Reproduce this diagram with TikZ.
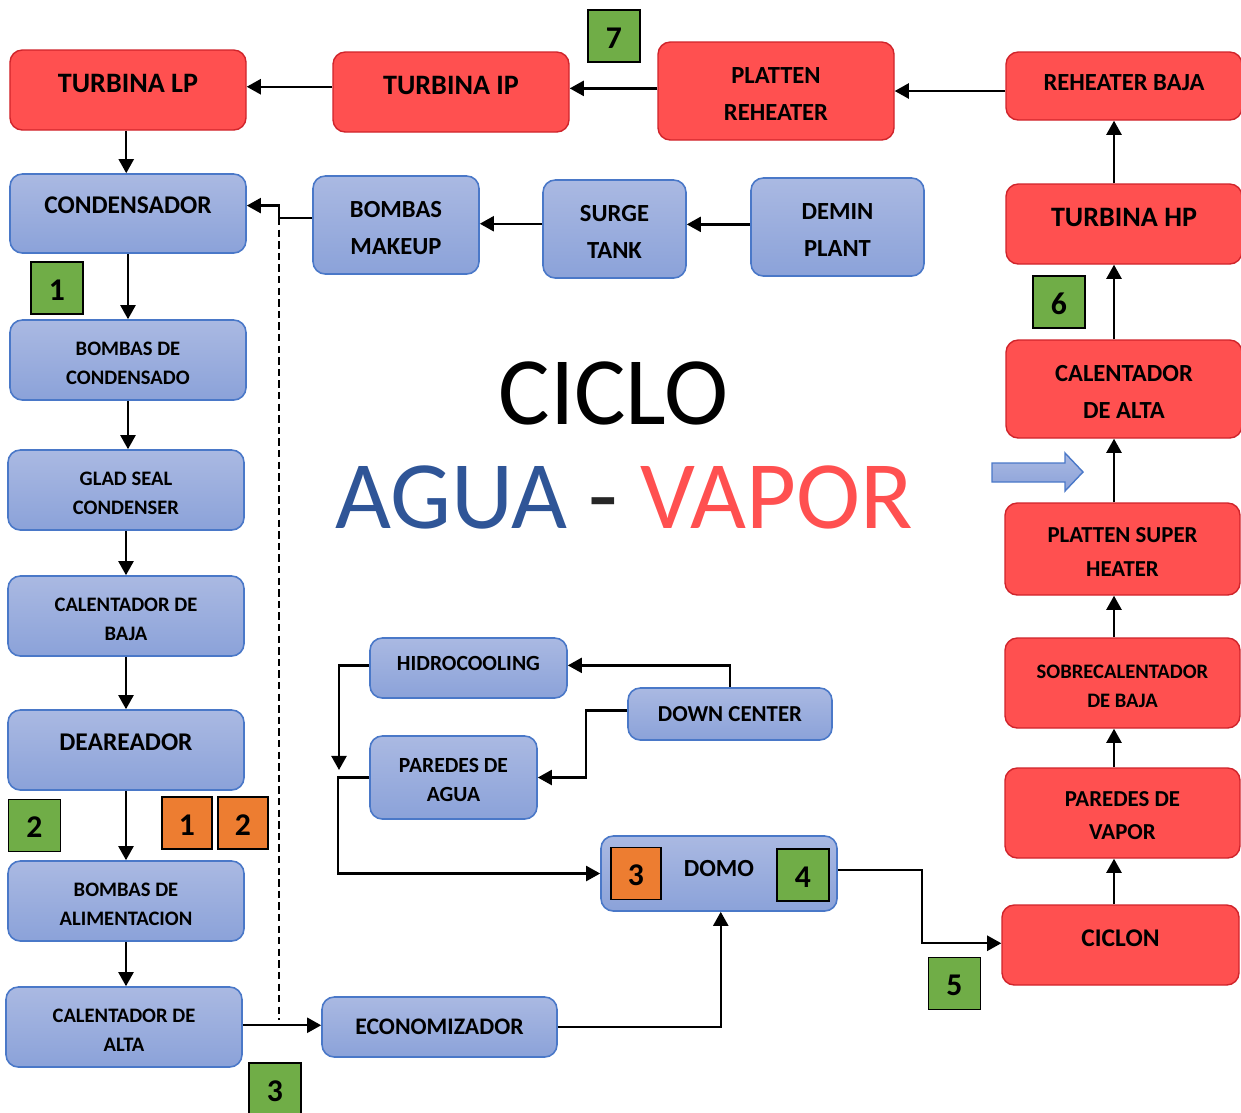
\documentclass[tikz,border=0pt]{standalone}
\usepackage{fontspec}
\setmainfont{Carlito}
\usetikzlibrary{arrows.meta}
\definecolor{vaporred}{HTML}{FF5050}
\definecolor{redline}{HTML}{D0242B}
\definecolor{blueTop}{HTML}{AAB9E2}
\definecolor{blueBot}{HTML}{8BA2D9}
\definecolor{blueline}{HTML}{4A78C8}
\definecolor{numgreen}{HTML}{70AD47}
\definecolor{numorange}{HTML}{ED7D31}
\definecolor{aguablue}{HTML}{2F5597}
\definecolor{dashdark}{HTML}{262626}
\begin{document}
\begin{tikzpicture}[x=0.2mm,y=-0.2mm,
  box/.style={rounded corners=7pt, align=center, inner sep=1pt},
  ml/.style={execute at begin node={\rule{0pt}{\dimexpr0.644em+\baselineskip+3.4pt\relax}}},
  redbox/.style={box, fill=vaporred, draw=redline, line width=0.8pt},
  bluebox/.style={box, top color=blueTop, bottom color=blueBot, draw=blueline, line width=0.9pt},
  numbox/.style={draw=black, line width=1.1pt, inner sep=0pt, minimum width=10.4mm, minimum height=10.4mm, text height=14pt, text depth=0pt, font=\fontsize{18}{20}\selectfont\bfseries},
  greenno/.style={numbox, fill=numgreen},
  orangeno/.style={numbox, fill=numorange},
  fturb/.style={font=\fontsize{16}{19}\selectfont\bfseries},
  fmid/.style={font=\fontsize{14}{21}\selectfont\bfseries},
  fsm/.style={font=\fontsize{13}{19}\selectfont\bfseries},
  ftiny/.style={font=\fontsize{11.7}{16.5}\selectfont\bfseries},
  flow/.style={line width=1.4pt, -{Triangle[length=8pt,width=8.5pt]}},
  dashline/.style={line width=1.4pt, dash pattern=on 4.2pt off 2.4pt},
  title/.style={font=\fontsize{55}{60}\selectfont, anchor=base}]
\useasboundingbox (0,0) rectangle (1241,1112);

\node[redbox, fturb, minimum width=47.2mm, minimum height=16mm, text height=10.3pt, text depth=8pt] (tlp) at (128,90) {TURBINA LP};
\node[redbox, fturb, minimum width=47.2mm, minimum height=16mm, text height=10.3pt, text depth=8pt] (tip) at (451,92) {TURBINA IP};
\node[redbox, fmid, ml, minimum width=47.2mm, minimum height=19.6mm] (plat) at (776,91) {PLATTEN\\REHEATER};
\node[redbox, fmid, minimum width=47.2mm, minimum height=13.6mm, text height=9pt, text depth=3.4pt] (rhb) at (1124,86) {REHEATER BAJA};
\node[greenno] (n7) at (614,36) {7};

\node[bluebox, font=\fontsize{14.5}{21}\selectfont\bfseries, minimum width=47.2mm, minimum height=15.8mm, text height=9.3pt, text depth=9.6pt] (cond) at (128,213.5) {CONDENSADOR};
\node[bluebox, fmid, ml, minimum width=33.2mm, minimum height=19.6mm] (bmk) at (396,225) {BOMBAS\\MAKEUP};
\node[bluebox, fmid, ml, minimum width=28.6mm, minimum height=19.6mm] (surge) at (614.5,229) {SURGE\\TANK};
\node[bluebox, fmid, ml, minimum width=34.6mm, minimum height=19.6mm] (demin) at (837.5,227) {DEMIN\\PLANT};
\node[redbox, fturb, minimum width=47.2mm, minimum height=16mm, text height=10.3pt, text depth=8pt] (thp) at (1124,224) {TURBINA HP};

\node[greenno] (n1g) at (57,288) {1};
\node[bluebox, ftiny, ml, minimum width=47.2mm, minimum height=16mm] (bdc) at (128,360) {BOMBAS DE\\CONDENSADO};
\node[greenno] (n6) at (1059,302) {6};
\node[redbox, fmid, ml, minimum width=47.2mm, minimum height=19.6mm] (calar) at (1124,389) {CALENTADOR\\DE ALTA};

\node[bluebox, ftiny, ml, minimum width=47.2mm, minimum height=16mm] (glad) at (126,490) {GLAD SEAL\\CONDENSER};
\node[redbox, fsm, ml, minimum width=47mm, minimum height=18.4mm] (psh) at (1122.5,549) {PLATTEN SUPER\\HEATER};
\node[bluebox, ftiny, ml, minimum width=47.2mm, minimum height=16mm] (calb) at (126,616) {CALENTADOR DE\\BAJA};

\node[bluebox, font=\fontsize{12.3}{17}\selectfont\bfseries, minimum width=39.4mm, minimum height=12mm, text height=7.9pt, text depth=4.6pt] (hidro) at (468.5,668) {HIDROCOOLING};
\node[redbox, ftiny, ml, minimum width=47mm, minimum height=18mm] (sobre) at (1122.5,683) {SOBRECALENTADOR\\DE BAJA};
\node[bluebox, fsm, minimum width=40.8mm, minimum height=10.4mm, text height=8.4pt, text depth=0pt] (down) at (730,714) {DOWN CENTER};
\node[bluebox, font=\fontsize{14.5}{21}\selectfont\bfseries, minimum width=47.2mm, minimum height=16mm, text height=9.3pt, text depth=9pt] (dear) at (126,750) {DEAREADOR};
\node[bluebox, font=\fontsize{12.3}{16.5}\selectfont\bfseries, ml, minimum width=33.4mm, minimum height=16.6mm] (pagua) at (453.5,777.5) {PAREDES DE\\AGUA};

\node[greenno] (n2g) at (34.5,825.5) {2};
\node[orangeno, minimum width=10mm] (n1o) at (187,823) {1};
\node[orangeno, minimum width=10mm] (n2o) at (243,823) {2};
\node[redbox, fsm, ml, minimum width=47mm, minimum height=18mm] (pvap) at (1122.5,813) {PAREDES DE\\VAPOR};

\node[bluebox, fmid, minimum width=47.2mm, minimum height=15mm, text height=9pt, text depth=5.6pt] (domo) at (719,873.5) {DOMO};
\node[orangeno, minimum width=10mm] (n3o) at (636,873.5) {3};
\node[greenno] (n4g) at (803,875) {4};
\node[bluebox, ftiny, ml, minimum width=47.2mm, minimum height=16mm] (balim) at (126,901) {BOMBAS DE\\ALIMENTACION};
\node[redbox, font=\fontsize{14.5}{21}\selectfont\bfseries, minimum width=47.4mm, minimum height=16mm, text height=9.3pt, text depth=8pt] (ciclon) at (1120.5,945) {CICLON};
\node[greenno] (n5) at (954.5,983.5) {5};

\node[bluebox, ftiny, ml, minimum width=47.2mm, minimum height=16mm] (calab) at (124,1027) {CALENTADOR DE\\ALTA};
\node[bluebox, font=\fontsize{13.5}{19}\selectfont\bfseries, minimum width=47mm, minimum height=12mm] (econ) at (439.5,1027) {ECONOMIZADOR};
\node[greenno] (n3g) at (275,1089) {3};

\node[title] (ciclo) at (613.5,424) {CICLO};
\node[title] (agua) at (624,528) {\textcolor{aguablue}{AGUA} \textcolor{dashdark}{-} \textcolor{vaporred}{VAPOR}};

\draw[draw=blueline, line width=0.8pt, top color=blueTop, bottom color=blueBot] (992,463) -- (1065,463) -- (1065,453) -- (1083,472) -- (1065,491) -- (1065,482) -- (992,482) -- cycle;

\coordinate (jn) at (279,218);
\coordinate (jd) at (279,1020);
\coordinate (rc) at (1114,0);
\coordinate (hd) at (339,770);

\draw[flow] (rhb.west|-plat.east) -- (plat.east);
\draw[flow] ([yshift=1.5pt]plat.west) -- ([yshift=1.5pt]plat.west-|tip.east);
\draw[flow] ([yshift=3pt]tip.west) -- ([yshift=3pt]tip.west-|tlp.east);
\draw[flow] ([xshift=-1pt]tlp.south) -- ([xshift=-1pt]cond.north);
\draw[flow] ([yshift=1.5pt]demin.west) -- ([yshift=1.5pt]demin.west-|surge.east);
\draw[flow] ([yshift=3pt]surge.west) -- ([yshift=3pt]surge.west-|bmk.east);
\draw[flow] (bmk.west|-jn) -- (jn) |- ([yshift=4.5pt]cond.east);
\draw[dashline] (jn) -- (jd);

\draw[flow] (cond.south) -- (bdc.north);
\draw[flow] (bdc.south) -- (bdc.south|-glad.north);
\draw[flow] (glad.south) -- (calb.north);
\draw[flow] (calb.south) -- (dear.north);
\draw[flow] (dear.south) -- (balim.north);
\draw[flow] (balim.south) -- (balim.south|-calab.north);
\draw[flow] ([yshift=1pt]calab.east) -- ([yshift=1pt]calab.east-|econ.west);
\draw[flow] (econ.east) -| ([xshift=1pt]domo.south);
\draw[flow] ([yshift=2pt]domo.east) -- ++(84,0) |- ([yshift=1pt]ciclon.west);

\draw[flow] (ciclon.north-|rc) -- (pvap.south-|rc);
\draw[flow] (pvap.north-|rc) -- (sobre.south-|rc);
\draw[flow] (sobre.north-|rc) -- (psh.south-|rc);
\draw[flow] (psh.north-|rc) -- (calar.south-|rc);
\draw[flow] (calar.north-|rc) -- (thp.south-|rc);
\draw[flow] (thp.north-|rc) -- (rhb.south-|rc);

\draw[flow] (down.north) |- ([yshift=1.5pt]hidro.east);
\draw[flow] ([yshift=2pt]down.west) -- ++(-41,0) |- (pagua.east);
\draw[flow] ([yshift=1.5pt]hidro.west) -| (hd);
\draw[flow] (pagua.west) -- ++(-31,0) |- (domo.west);
\end{tikzpicture}
\end{document}
